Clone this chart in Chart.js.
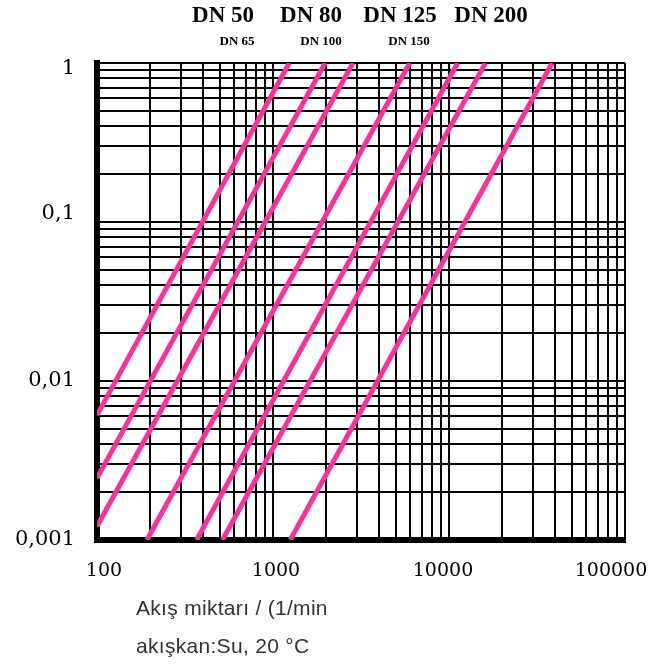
<!DOCTYPE html>
<html>
<head>
<meta charset="utf-8">
<script src="https://cdn.jsdelivr.net/npm/chart.js@4.4.1/dist/chart.umd.min.js"></script>
<style>
  html, body { margin: 0; padding: 0; background: #fff; }
</style>
</head>
<body>
<canvas id="chart" width="652" height="666"></canvas>
<script>
// pipe sizes, one line each, left to right
const sizes = ['DN 50', 'DN 65', 'DN 80', 'DN 100', 'DN 125', 'DN 150', 'DN 200'];
// where each line enters the plot: flow (l/min), pressure drop
const startFlow = [100, 100, 100, 192, 368, 516, 1253];
const startDrop = [0.0061, 0.00245, 0.00122, 0.001, 0.001, 0.001, 0.001];
// where each line leaves through the top
const endFlow = [1237, 1977, 2848, 5985, 11190, 16110, 38560];
const endDrop = [1, 1, 1, 1, 1, 1, 1];

const xTicks = [100, 1000, 10000, 100000];
const xTickLabels = ['100', '1000', '10000', '100000'];
const yTicks = [0.001, 0.01, 0.1, 1];
const yTickLabels = ['0,001', '0,01', '0,1', '1'];

const headTop = ['DN 50', 'DN 80', 'DN 125', 'DN 200'];
const headSub = ['DN 65', 'DN 100', 'DN 150'];
const footer = ['Akış miktarı / (1/min', 'akışkan:Su, 20 °C'];

const pink = '#f7339b';

// every 1..9 step of each decade, so the grid looks like log paper
function logGrid(min, max) {
    const out = [];
    for (let e = Math.floor(Math.log10(min)); Math.pow(10, e) <= max; e++) {
        for (let m = 1; m < 10; m++) {
            const v = parseFloat((m * Math.pow(10, e)).toPrecision(6));
            if (v >= min * 0.999 && v <= max * 1.001) out.push({ value: v });
        }
    }
    return out;
}

function labelFor(list, labels) {
    return function (value) {
        const i = list.findIndex(t => Math.abs(Math.log10(t) - Math.log10(value)) < 1e-6);
        return i >= 0 ? labels[i] : '';
    };
}

const datasets = sizes.map((name, i) => ({
    label: name,
    data: [{ x: startFlow[i], y: startDrop[i] }, { x: endFlow[i], y: endDrop[i] }],
    borderColor: pink,
    borderWidth: 5,
    borderCapStyle: 'butt',
    pointRadius: 0,
    fill: false,
    tension: 0
}));

// tick labels in the original sit a bit off their grid lines
const nudge = {
    id: 'nudge',
    beforeDraw(chart) {
        const dx = { '100': 7, '1000': 3, '10000': -6, '100000': -14 };
        const dy = { '1': 6, '0,1': -8 };
        chart.scales.x.getLabelItems().forEach(it => {
            if (!it._moved && it.options && it.options.translation && dx[it.label]) {
                it.options.translation[0] += dx[it.label];
                it._moved = true;
            }
        });
        chart.scales.y.getLabelItems().forEach(it => {
            if (!it._moved && it.options && it.options.translation && dy[it.label]) {
                it.options.translation[1] += dy[it.label];
                it._moved = true;
            }
        });
    }
};

const texts = {
    id: 'texts',
    afterDraw(chart) {
        const ctx = chart.ctx;
        ctx.save();
        ctx.fillStyle = '#000';
        ctx.textAlign = 'center';
        ctx.textBaseline = 'alphabetic';
        ctx.font = 'bold 23px "Liberation Serif"';
        const topX = [223, 311, 400, 491];
        headTop.forEach((t, i) => ctx.fillText(t, topX[i], 22));
        ctx.font = 'bold 13px "Liberation Serif"';
        const subX = [237, 321, 409];
        headSub.forEach((t, i) => ctx.fillText(t, subX[i], 45));

        ctx.fillStyle = '#333';
        ctx.textAlign = 'left';
        ctx.font = '21px "Liberation Sans"';
        try { ctx.letterSpacing = '0.3px'; } catch (e) {}
        ctx.fillText(footer[0], 136, 615);
        ctx.fillText(footer[1], 136, 653);
        ctx.restore();
    }
};

Chart.defaults.font.family = '"DejaVu Serif"';

new Chart(document.getElementById('chart'), {
    type: 'line',
    data: { datasets: datasets },
    plugins: [nudge, texts],
    options: {
        responsive: false,
        animation: false,
        layout: { padding: { left: 0, right: 27, top: 63, bottom: 66 } },
        plugins: { legend: { display: false }, tooltip: { enabled: false } },
        scales: {
            x: {
                type: 'logarithmic',
                min: 100,
                max: 100000,
                afterBuildTicks: a => { a.ticks = logGrid(100, 100000); },
                afterFit: a => { a.height = 60; a.paddingLeft = 0; a.paddingRight = 0; },
                grid: { color: '#000', lineWidth: 2, drawTicks: false },
                border: { color: '#000', width: 6 },
                ticks: {
                    autoSkip: false, maxRotation: 0, minRotation: 0, padding: 20,
                    color: '#000', font: { family: '"DejaVu Serif"', size: 19 },
                    callback: labelFor(xTicks, xTickLabels)
                }
            },
            y: {
                type: 'logarithmic',
                min: 0.001,
                max: 1,
                afterBuildTicks: a => { a.ticks = logGrid(0.001, 1); },
                afterFit: a => { a.width = 97; a.paddingTop = 0; a.paddingBottom = 0; },
                grid: { color: '#000', lineWidth: 2, drawTicks: false },
                border: { color: '#000', width: 6 },
                ticks: {
                    autoSkip: false, padding: 22,
                    color: '#000', font: { family: '"DejaVu Serif"', size: 21 },
                    callback: labelFor(yTicks, yTickLabels)
                }
            }
        }
    }
});
</script>
</body>
</html>
